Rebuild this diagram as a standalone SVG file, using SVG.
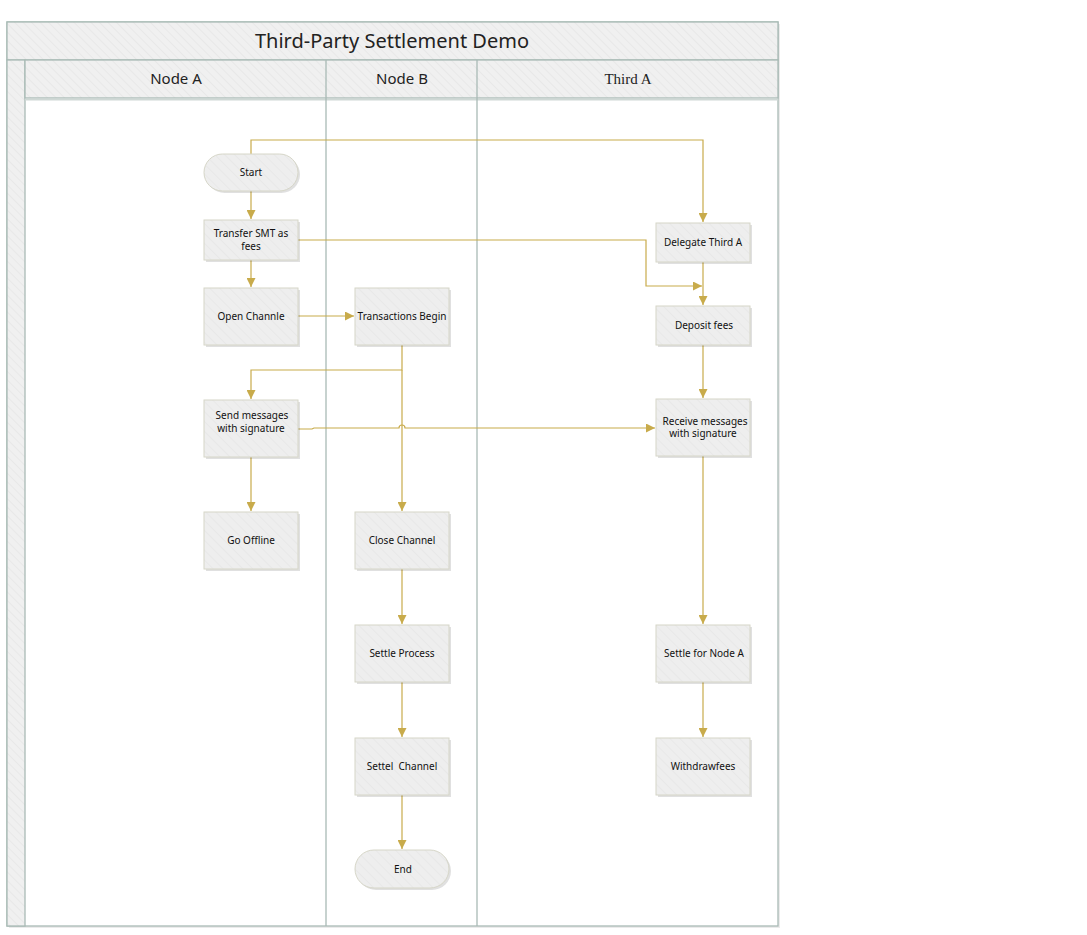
<svg xmlns="http://www.w3.org/2000/svg" width="1087" height="935" viewBox="0 0 1087 935">
<defs>
<pattern id="hatch" width="6" height="6" patternUnits="userSpaceOnUse" patternTransform="rotate(-45)">
<rect width="6" height="6" fill="#f0f0f0"/>
<line x1="0" y1="0" x2="0" y2="6" stroke="#e6e6e6" stroke-width="1.5"/>
</pattern>
<pattern id="hatchBox" width="7" height="7" patternUnits="userSpaceOnUse" patternTransform="rotate(-45)">
<rect width="7" height="7" fill="#eeeeee"/>
<line x1="0" y1="0" x2="0" y2="7" stroke="#e6e6e6" stroke-width="1.5"/>
</pattern>
<marker id="arr" viewBox="0 0 10 10" refX="10" refY="5" markerWidth="9" markerHeight="9" markerUnits="userSpaceOnUse" orient="auto">
<path d="M0,0 L10,5 L0,10 z" fill="#c8ab4b"/>
</marker>
</defs>
<style>
.lane{stroke:#a9bab5;stroke-width:1.3;}
.box{fill:url(#hatchBox);stroke:#d6d6c8;stroke-width:1;}
.shadow{fill:#000;opacity:0.12;}
.t{font-family:"Noto Sans","Open Sans",sans-serif;font-size:10px;fill:#111;text-anchor:middle;}
.h{font-family:"Noto Sans","Open Sans",sans-serif;font-size:15px;fill:#222;text-anchor:middle;}
.c{fill:none;stroke:#c8ab4b;stroke-width:1.2;}
</style>
<rect width="1087" height="935" fill="#ffffff"/>
<g id="pool">
<rect x="9" y="24" width="771" height="904" fill="#000" opacity="0.08"/>
<rect x="7" y="22" width="771" height="904" fill="#ffffff" class="lane"/>
<rect x="7" y="22" width="771" height="38" fill="url(#hatch)" class="lane"/>
<rect x="7" y="60" width="18" height="866" fill="url(#hatch)" class="lane"/>
<rect x="25" y="60" width="753" height="38" fill="url(#hatch)" class="lane"/>
<line x1="25" y1="99.5" x2="778" y2="99.5" stroke="#cfd8d5" stroke-width="2"/>
<line x1="326" y1="60" x2="326" y2="926" class="lane"/>
<line x1="477" y1="60" x2="477" y2="926" class="lane"/>
<text x="392" y="48" class="h" style="font-size:20px">Third-Party Settlement Demo</text>
<text x="176" y="84" class="h">Node A</text>
<text x="402" y="84" class="h">Node B</text>
<text x="628" y="84" class="h" style="font-family:'Liberation Serif',serif;font-size:15px">Third A</text>
</g>
<g id="connectors">
<path class="c" d="M251,154 V140 H703 V222" marker-end="url(#arr)"/>
<path class="c" d="M251,191 V219" marker-end="url(#arr)"/>
<path class="c" d="M251,260 V287" marker-end="url(#arr)"/>
<path class="c" d="M298,240 H646 V286 H702" marker-end="url(#arr)"/>
<path class="c" d="M703,262 V305" marker-end="url(#arr)"/>
<path class="c" d="M298,316 H354" marker-end="url(#arr)"/>
<path class="c" d="M402,345 V370 H251 V399" marker-end="url(#arr)"/>
<path class="c" d="M402,370 V511" marker-end="url(#arr)"/>
<path class="c" d="M298,429 H312 L314,428 H399 A3,3 0 0 1 405,428 H655" marker-end="url(#arr)"/>
<path class="c" d="M251,457 V511" marker-end="url(#arr)"/>
<path class="c" d="M703,345 V398" marker-end="url(#arr)"/>
<path class="c" d="M703,456 V624" marker-end="url(#arr)"/>
<path class="c" d="M703,682 V737" marker-end="url(#arr)"/>
<path class="c" d="M402,569 V624" marker-end="url(#arr)"/>
<path class="c" d="M402,682 V737" marker-end="url(#arr)"/>
<path class="c" d="M402,795 V849" marker-end="url(#arr)"/>
</g>
<g id="start">
<rect x="206" y="156" width="94" height="37" rx="18.5" class="shadow"/>
<rect x="204" y="154" width="94" height="37" rx="18.5" class="box" stroke="#b9c4c0"/>
<text x="251" y="176" class="t">Start</text>
</g>
<g id="transfer">
<rect x="206" y="222" width="94" height="40" class="shadow"/>
<rect x="204" y="220" width="94" height="40" class="box"/>
<text x="251" y="237" class="t">Transfer SMT as</text>
<text x="251" y="250" class="t">fees</text>
</g>
<g id="open">
<rect x="206" y="290" width="94" height="57" class="shadow"/>
<rect x="204" y="288" width="94" height="57" class="box"/>
<text x="251" y="320" class="t">Open Channle</text>
</g>
<g id="txbegin">
<rect x="357" y="290" width="94" height="57" class="shadow"/>
<rect x="355" y="288" width="94" height="57" class="box"/>
<text x="402" y="320" class="t">Transactions Begin</text>
</g>
<g id="send">
<rect x="206" y="402" width="94" height="57" class="shadow"/>
<rect x="204" y="400" width="94" height="57" class="box"/>
<text x="252" y="419" class="t">Send messages</text>
<text x="251" y="432" class="t">with signature</text>
</g>
<g id="offline">
<rect x="206" y="514" width="94" height="57" class="shadow"/>
<rect x="204" y="512" width="94" height="57" class="box"/>
<text x="251" y="544" class="t">Go Offline</text>
</g>
<g id="close">
<rect x="357" y="514" width="94" height="57" class="shadow"/>
<rect x="355" y="512" width="94" height="57" class="box"/>
<text x="402" y="544" class="t">Close Channel</text>
</g>
<g id="settleprocess">
<rect x="357" y="627" width="94" height="57" class="shadow"/>
<rect x="355" y="625" width="94" height="57" class="box"/>
<text x="402" y="657" class="t">Settle Process</text>
</g>
<g id="settelchannel">
<rect x="357" y="740" width="94" height="57" class="shadow"/>
<rect x="355" y="738" width="94" height="57" class="box"/>
<text x="402" y="770" class="t" xml:space="preserve">Settel  Channel</text>
</g>
<g id="end">
<rect x="357" y="852" width="94" height="38" rx="19" class="shadow"/>
<rect x="355" y="850" width="94" height="38" rx="19" class="box" stroke="#b9c4c0"/>
<text x="403" y="873" class="t">End</text>
</g>
<g id="delegate">
<rect x="658" y="225" width="94" height="39" class="shadow"/>
<rect x="656" y="223" width="94" height="39" class="box"/>
<text x="703" y="246" class="t">Delegate Third A</text>
</g>
<g id="deposit">
<rect x="658" y="308" width="94" height="39" class="shadow"/>
<rect x="656" y="306" width="94" height="39" class="box"/>
<text x="704" y="329" class="t">Deposit fees</text>
</g>
<g id="receive">
<rect x="658" y="401" width="94" height="57" class="shadow"/>
<rect x="656" y="399" width="94" height="57" class="box"/>
<text x="705" y="425" class="t">Receive messages</text>
<text x="703" y="437" class="t">with signature</text>
</g>
<g id="settlenodea">
<rect x="658" y="627" width="94" height="57" class="shadow"/>
<rect x="656" y="625" width="94" height="57" class="box"/>
<text x="704" y="657" class="t">Settle for Node A</text>
</g>
<g id="withdraw">
<rect x="658" y="740" width="94" height="57" class="shadow"/>
<rect x="656" y="738" width="94" height="57" class="box"/>
<text x="703" y="770" class="t">Withdrawfees</text>
</g>
</svg>
